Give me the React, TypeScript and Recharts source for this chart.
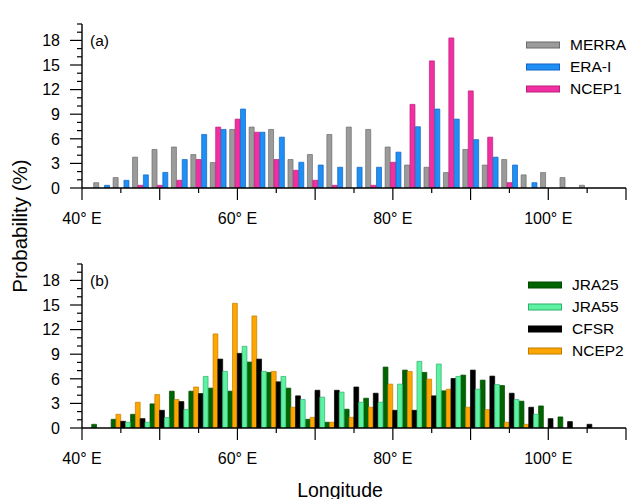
import React from "react";
import { BarChart, Bar, XAxis, YAxis, Legend } from "recharts";

// 2.5 degree longitude bins (bin centres)
const lonBins = [
  42.5, 45, 47.5, 50, 52.5, 55, 57.5, 60, 62.5, 65, 67.5, 70, 72.5, 75, 77.5, 80,
  82.5, 85, 87.5, 90, 92.5, 95, 97.5, 100, 102.5, 105,
];
const lonTicks = [40, 45, 50, 55, 60, 65, 70, 75, 80, 85, 90, 95, 100, 105, 110];
const lonLabels = [40, 60, 80, 100];
const probTicks = [0, 1, 2, 3, 4, 5, 6, 7, 8, 9, 10, 11, 12, 13, 14, 15, 16, 17, 18, 19, 20];
const probLabels = [0, 3, 6, 9, 12, 15, 18];

// panel (a)
const merra = [0.65, 1.27, 3.76, 4.7, 5.0, 4.08, 3.1, 7.14, 7.43, 7.14, 3.47, 4.08, 6.53, 7.43, 7.14, 5.0, 2.8, 2.53, 1.88, 4.7, 2.8, 3.47, 1.6, 1.88, 1.27, 0.33];
const ncep1 = [0, 0, 0.33, 0.33, 0.94, 3.47, 7.43, 8.4, 6.8, 3.47, 2.16, 0.94, 0.33, 0, 0.33, 3.14, 10.2, 15.5, 18.3, 11.84, 6.2, 0.65, 0, 0, 0, 0];
const eraI = [0.33, 0.94, 1.6, 1.9, 3.47, 6.53, 7.14, 9.63, 6.8, 6.2, 3.14, 2.8, 2.53, 2.53, 2.53, 4.37, 7.47, 9.63, 8.4, 5.9, 3.76, 2.8, 0.65, 0, 0, 0];

// panel (b)
const jra25 = [0.45, 1.06, 1.67, 2.94, 4.49, 4.49, 4.86, 4.49, 8.04, 6.78, 4.86, 1.06, 0.7, 2.29, 3.63, 7.43, 7.06, 6.78, 4.53, 6.45, 5.84, 5.18, 3.27, 2.69, 1.35, 0];
const ncep2 = [0, 1.67, 3.14, 4.08, 3.47, 5.0, 11.47, 15.2, 13.67, 6.9, 2.53, 1.3, 0.7, 1.3, 2.53, 5.35, 6.9, 5.96, 4.73, 2.53, 2.24, 0.7, 0.45, 0, 0, 0];
const cfsr = [0, 0.82, 1.14, 2.16, 3.22, 4.2, 8.4, 9.1, 8.4, 5.63, 3.92, 4.6, 4.6, 5.0, 4.24, 2.16, 2.16, 3.92, 6.04, 7.06, 6.33, 4.24, 2.53, 1.14, 0.78, 0.45];
const jra55 = [0, 0.7, 0.7, 1.27, 2.24, 6.29, 6.9, 9.96, 6.9, 6.29, 3.47, 3.76, 4.37, 3.14, 3.14, 5.35, 8.12, 7.8, 6.29, 4.73, 5.3, 3.47, 1.67, 0, 0, 0];

const FONT = '"Liberation Sans", Arial, Helvetica, sans-serif';

type Series = { name: string; values: number[]; fill: string; stroke: string };

// bar order inside a bin differs from the legend order
const seriesA: Series[] = [
  { name: "MERRA", values: merra, fill: "#9b9b9b", stroke: "#6b6b6b" },
  { name: "NCEP1", values: ncep1, fill: "#f22fa2", stroke: "#b8207a" },
  { name: "ERA-I", values: eraI, fill: "#1e8ff5", stroke: "#1463c2" },
];
const legendA = ["MERRA", "ERA-I", "NCEP1"];

const seriesB: Series[] = [
  { name: "JRA25", values: jra25, fill: "#006400", stroke: "#004a00" },
  { name: "NCEP2", values: ncep2, fill: "#ffa500", stroke: "#c07c00" },
  { name: "CFSR", values: cfsr, fill: "#000000", stroke: "#000000" },
  { name: "JRA55", values: jra55, fill: "#5cf2a2", stroke: "#2fae6c" },
];
const legendB = ["JRA25", "JRA55", "CFSR", "NCEP2"];

function LonTick(props: any) {
  const { x, y, payload, side } = props;
  const v = payload.value;
  const len = v % 10 === 0 ? 12 : 5;
  if (side === "top") {
    return <line x1={x} x2={x} y1={y} y2={y - len} stroke="#000" strokeWidth={1.2} />;
  }
  return (
    <g>
      <line x1={x} x2={x} y1={y} y2={y + len} stroke="#000" strokeWidth={1.2} />
      {lonLabels.includes(v) && (
        <text x={x} y={y + 36} textAnchor="middle" fontSize={16} fontFamily={FONT} fill="#000">
          {`${v}° E`}
        </text>
      )}
    </g>
  );
}

function ProbTick(props: any) {
  const { x, y, payload, side } = props;
  const v = payload.value;
  const major = probLabels.includes(v);
  const len = major ? 12 : 5;
  const dir = side === "left" ? -1 : 1;
  return (
    <g>
      <line x1={x} x2={x + dir * len} y1={y} y2={y} stroke="#000" strokeWidth={1.2} />
      {side === "left" && major && (
        <text x={x - 22} y={y} dy="0.36em" textAnchor="end" fontSize={16} fontFamily={FONT} fill="#000">
          {v}
        </text>
      )}
    </g>
  );
}

function makeLegend(order: string[], series: Series[]) {
  return () => (
    <div style={{ fontFamily: FONT }}>
      {order.map((name) => {
        const s = series.find((d) => d.name === name)!;
        return (
          <div key={name} style={{ display: "flex", alignItems: "center", height: 22 }}>
            <svg width={34} height={8} style={{ display: "block" }}>
              <rect x={0.5} y={1} width={33} height={6} fill={s.fill} stroke={s.stroke} strokeWidth={1} />
            </svg>
            <span style={{ marginLeft: 10, fontSize: 15.5, color: "#000" }}>{name}</span>
          </div>
        );
      })}
    </div>
  );
}

function Panel({ series, legend, label, barSize, barGap, legendLeft }: {
  series: Series[];
  legend: string[];
  label: string;
  barSize: number;
  barGap: number;
  legendLeft: number;
}) {
  const data = lonBins.map((lon, i) => {
    const row: Record<string, number> = { lon };
    series.forEach((s) => (row[s.name] = s.values[i]));
    return row;
  });
  return (
    <div style={{ position: "relative", width: 636, height: 240 }}>
      <BarChart
        width={636}
        height={240}
        data={data}
        barGap={barGap}
        margin={{ top: 24, right: 10, bottom: 12, left: 22 }}
      >
        <XAxis
          xAxisId="b"
          type="number"
          dataKey="lon"
          domain={[40, 110]}
          allowDataOverflow
          ticks={lonTicks}
          interval={0}
          height={40}
          tickSize={0}
          tickMargin={0}
          tickLine={false}
          axisLine={{ stroke: "#000", strokeWidth: 1.4 }}
          tick={(p: any) => <LonTick {...p} side="bottom" />}
        />
        <XAxis
          xAxisId="t"
          orientation="top"
          type="number"
          domain={[40, 110]}
          allowDataOverflow
          ticks={lonTicks}
          interval={0}
          height={0}
          tickSize={0}
          tickMargin={0}
          tickLine={false}
          axisLine={{ stroke: "#000", strokeWidth: 1.4 }}
          tick={(p: any) => <LonTick {...p} side="top" />}
        />
        <YAxis
          yAxisId="l"
          type="number"
          domain={[0, 20]}
          allowDataOverflow
          ticks={probTicks}
          interval={0}
          width={60}
          tickSize={0}
          tickMargin={0}
          tickLine={false}
          axisLine={{ stroke: "#000", strokeWidth: 1.4 }}
          tick={(p: any) => <ProbTick {...p} side="left" />}
        />
        <YAxis
          yAxisId="r"
          orientation="right"
          type="number"
          domain={[0, 20]}
          allowDataOverflow
          ticks={probTicks}
          interval={0}
          width={0}
          tickSize={0}
          tickMargin={0}
          tickLine={false}
          axisLine={{ stroke: "#000", strokeWidth: 1.4 }}
          tick={(p: any) => <ProbTick {...p} side="right" />}
        />
        {series.map((s) => (
          <Bar
            key={s.name}
            dataKey={s.name}
            xAxisId="b"
            yAxisId="l"
            fill={s.fill}
            stroke={s.stroke}
            strokeWidth={0.7}
            barSize={barSize}
            isAnimationActive={false}
          />
        ))}
        <Legend
          layout="horizontal"
          verticalAlign="middle"
          align="center"
          content={makeLegend(legend, series)}
          wrapperStyle={{ left: legendLeft, top: 34, width: "auto" }}
        />
      </BarChart>
      <div
        style={{
          position: "absolute",
          left: 90,
          top: 41,
          transform: "translateY(-50%)",
          fontFamily: FONT,
          fontSize: 15.5,
          lineHeight: 1,
        }}
      >
        {label}
      </div>
    </div>
  );
}

export default function App() {
  return (
    <div style={{ position: "absolute", left: 0, top: 0, width: 636, height: 499, background: "#fff" }}>
      <Panel series={seriesA} legend={legendA} label="(a)" barSize={5} barGap={0.4} legendLeft={526} />
      <Panel series={seriesB} legend={legendB} label="(b)" barSize={4.8} barGap={0} legendLeft={528} />
      <div
        style={{
          position: "absolute",
          left: 20,
          top: 226,
          transform: "translate(-50%, -50%) rotate(-90deg)",
          fontFamily: FONT,
          fontSize: 20.5,
          whiteSpace: "nowrap",
        }}
      >
        Probability (%)
      </div>
      <div
        style={{
          position: "absolute",
          left: 340,
          top: 490,
          transform: "translate(-50%, -50%)",
          fontFamily: FONT,
          fontSize: 19.5,
          whiteSpace: "nowrap",
        }}
      >
        Longitude
      </div>
    </div>
  );
}
